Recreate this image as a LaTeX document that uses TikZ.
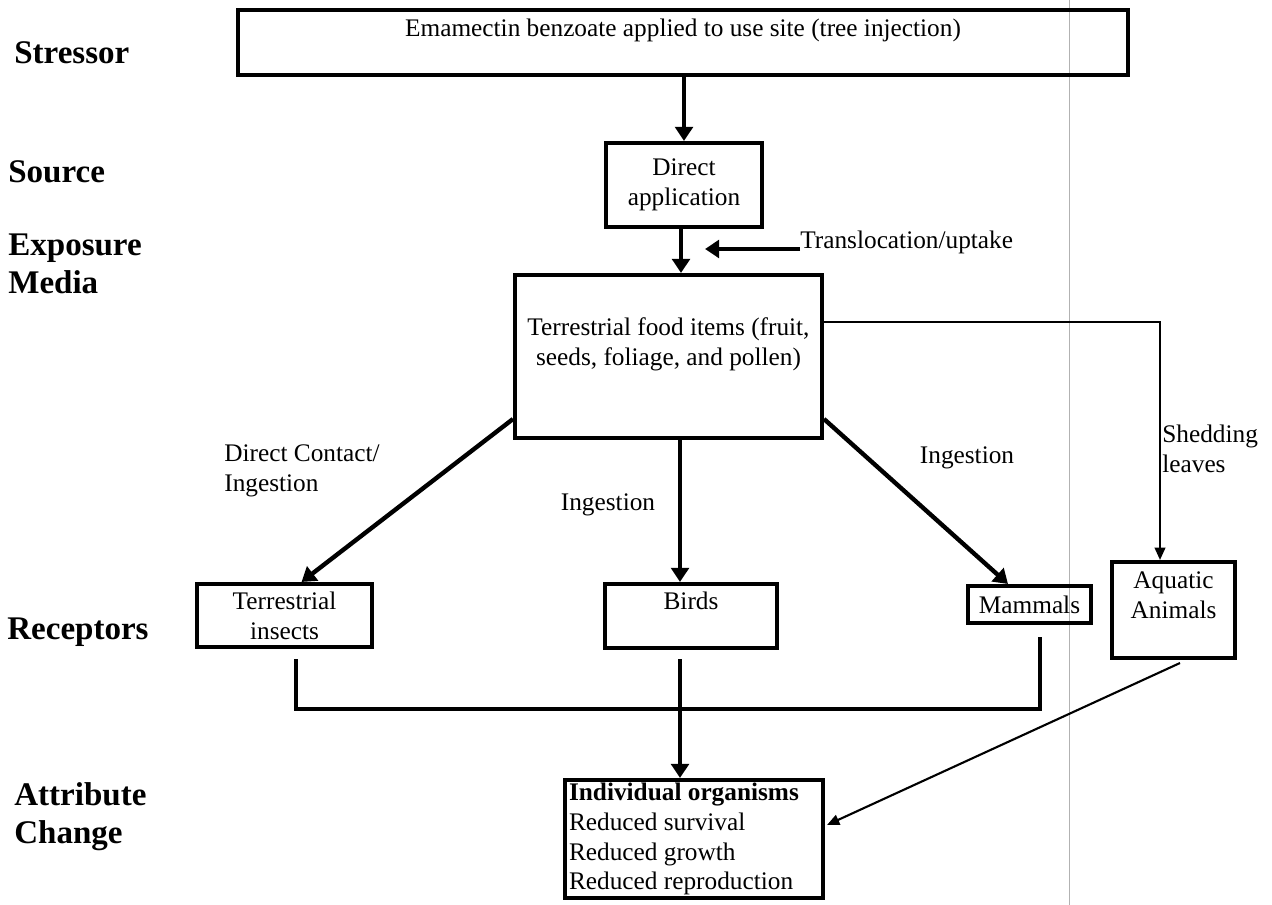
\documentclass[tikz,border=0pt]{standalone}
\usepackage{fontspec}
\setmainfont{Liberation Serif}
\usetikzlibrary{arrows.meta,calc}

\begin{document}
\begin{tikzpicture}[x=0.02cm, y=-0.02cm,
    every node/.style={inner sep=0pt, font=\fontsize{14.4}{17}\selectfont},
    box/.style={draw, line width=2.3pt, align=center},
    stage/.style={anchor=west, align=left, font=\fontsize{18.8}{21.5}\selectfont\bfseries},
    flow/.style={line width=2.5pt, -{Triangle[length=8pt, width=10pt]}},
    feed/.style={line width=1.2pt, -{Triangle[length=7pt, width=6pt]}},
    merge/.style={line width=1.8pt}]
    \useasboundingbox (0,0) rectangle (1272,905);
    \draw[gray!60, line width=0.5pt] (1069,0) -- (1069,905);

    \node[stage] (stressor) at (14,53) {Stressor};
    \node[stage] (source) at (8,172) {Source};
    \node[stage] (media) at (8,264) {Exposure\\Media};
    \node[stage] (receptors) at (7,632) {Receptors};
    \node[stage] (change) at (14,817) {Attribute\\Change};

    \node[box, minimum width=17.8cm, minimum height=1.3cm] (site) at (683,42.5) {Emamectin benzoate applied to use site (tree injection)\\\mbox{}};
    \node[box, minimum width=3.12cm, minimum height=1.68cm] (direct) at (684,185) {Direct\\application};
    \node[box, minimum width=6.14cm, minimum height=3.26cm] (food) at (668.5,356.5) {Terrestrial food items (fruit,\\seeds, foliage, and pollen)\\\mbox{}};
    \node[box, minimum width=3.5cm, minimum height=1.26cm] (insects) at (284.5,615.5) {Terrestrial\\insects};
    \node[box, minimum width=3.44cm, minimum height=1.28cm] (birds) at (691,616) {Birds\\\mbox{}};
    \node[box, minimum width=2.46cm, minimum height=0.74cm] (mammals) at (1029.5,604.5) {Mammals};
    \node[box, minimum width=2.46cm, minimum height=1.92cm] (aquatic) at (1173.5,610) {Aquatic\\Animals\\\mbox{}};
    \node[box, minimum width=5.16cm, minimum height=2.36cm, text width=5cm, align=flush left] (organisms) at (694,839) {\textbf{Individual organisms}\\Reduced survival\\Reduced growth\\Reduced reproduction};

    \node[anchor=west] (uptake) at (800,242) {Translocation/uptake};
    \node[anchor=west, align=left] (contact) at (224,471) {Direct Contact/\\Ingestion};
    \node (ingbirds) at (608,505) {Ingestion};
    \node (ingmammals) at (967,458) {Ingestion};
    \node[anchor=west, align=left] (shedding) at (1162,449) {Shedding\\leaves};

    \coordinate (uptaketip) at (705,249);
    \coordinate (trunk) at (680,438);
    \coordinate (shed) at (1160,322);

    \draw[flow] (direct.north |- site.south) -- (direct.north);
    \draw[flow] ($(direct.south)+(-3,0)$) -- ($(direct.south |- food.north)+(-3,0)$);
    \draw[flow] (uptake.west |- uptaketip) -- (uptaketip);
    \draw[feed] (food.east |- shed) -- (shed) -- (shed |- aquatic.north);
    \draw[flow] ($(food.south west)+(0,-21)$) -- ($(insects.north)+(17,0)$);
    \draw[flow] (trunk) -- (trunk |- birds.north);
    \draw[flow] ($(food.south east)+(0,-21)$) -- ($(mammals.north)+(-21.5,0)$);
    \draw[merge] ($(insects.south)+(11.5,10)$) -- ($(insects.south)+(11.5,60)$) -| ($(mammals.south)+(10.5,12)$);
    \draw[flow] ($(trunk |- birds.south)+(0,9)$) -- (trunk |- organisms.north);
    \draw[feed] ($(aquatic.south)+(6.5,3)$) -- ($(organisms.east)+(2,-14)$);
\end{tikzpicture}
\end{document}
